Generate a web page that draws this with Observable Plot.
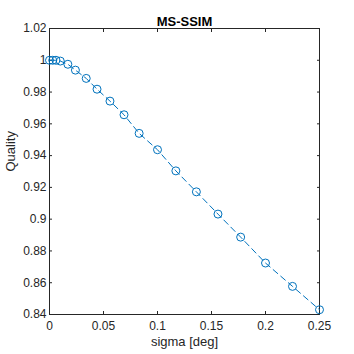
<!DOCTYPE html>
<html>
<head>
<meta charset="utf-8">
<script src="https://cdn.jsdelivr.net/npm/d3@7"></script>
<script src="https://cdn.jsdelivr.net/npm/@observablehq/plot@0.6"></script>
<style>
  html, body { margin: 0; padding: 0; background: #fff; }
  svg { display: block; }
</style>
</head>
<body>
<div id="chart"></div>
<script>
const sigma = [0, 0.003, 0.006, 0.010, 0.017, 0.024, 0.034, 0.044, 0.056, 0.069, 0.083, 0.100, 0.117, 0.136, 0.156, 0.177, 0.200, 0.225, 0.250];
const quality = [1.000, 1.000, 1.000, 0.9995, 0.9975, 0.9938, 0.9886, 0.9818, 0.9743, 0.9657, 0.9540, 0.9437, 0.9304, 0.9172, 0.9032, 0.8887, 0.8724, 0.8577, 0.8430];
const xTicks = [0, 0.05, 0.1, 0.15, 0.2, 0.25];
const yTicks = [0.84, 0.86, 0.88, 0.9, 0.92, 0.94, 0.96, 0.98, 1, 1.02];
const titleText = "MS-SSIM";
const xLabel = "sigma [deg]";
const yLabel = "Quality";

const data = sigma.map((s, i) => ({sigma: s, quality: quality[i]}));
const fmt = d => String(+d.toFixed(2));
const blank = () => "";
const ink = "#262626";
const blue = "#0072BD";
const font = "'Liberation Sans', Arial, Helvetica, sans-serif";

const chart = Plot.plot({
  width: 354,
  height: 354,
  marginLeft: 49,
  marginRight: 35,
  marginTop: 28,
  marginBottom: 40,
  style: {fontFamily: font, color: ink, background: "#fff"},
  x: {domain: [0, 0.25]},
  y: {domain: [0.84, 1.02]},
  marks: [
    Plot.frame({stroke: ink, strokeWidth: 1}),
    Plot.axisX(xTicks, {anchor: "bottom", tickSize: -3, tickPadding: 10, tickFormat: fmt, fontSize: 12, label: null, stroke: ink, fill: ink}),
    Plot.axisX(xTicks, {anchor: "top", tickSize: -3, tickFormat: blank, label: null, stroke: ink}),
    Plot.axisY(yTicks, {anchor: "left", tickSize: -3, tickPadding: 6, tickFormat: fmt, fontSize: 12, label: null, stroke: ink, fill: ink}),
    Plot.axisY(yTicks, {anchor: "right", tickSize: -3, tickFormat: blank, label: null, stroke: ink}),
    Plot.line(data, {x: "sigma", y: "quality", stroke: blue, strokeWidth: 1, strokeDasharray: "6,4"}),
    Plot.dot(data, {x: "sigma", y: "quality", r: 4, stroke: blue, fill: "none", strokeWidth: 1}),
    Plot.text([titleText], {frameAnchor: "top", dy: -11.8, fontSize: 13, fontWeight: "bold", fill: "#000"}),
    Plot.text([xLabel], {frameAnchor: "bottom", dy: 31, fontSize: 13, fill: ink}),
    Plot.text([yLabel], {frameAnchor: "left", dx: -39, rotate: -90, fontSize: 13, fill: ink})
  ]
});
document.getElementById("chart").appendChild(chart);
</script>
</body>
</html>
